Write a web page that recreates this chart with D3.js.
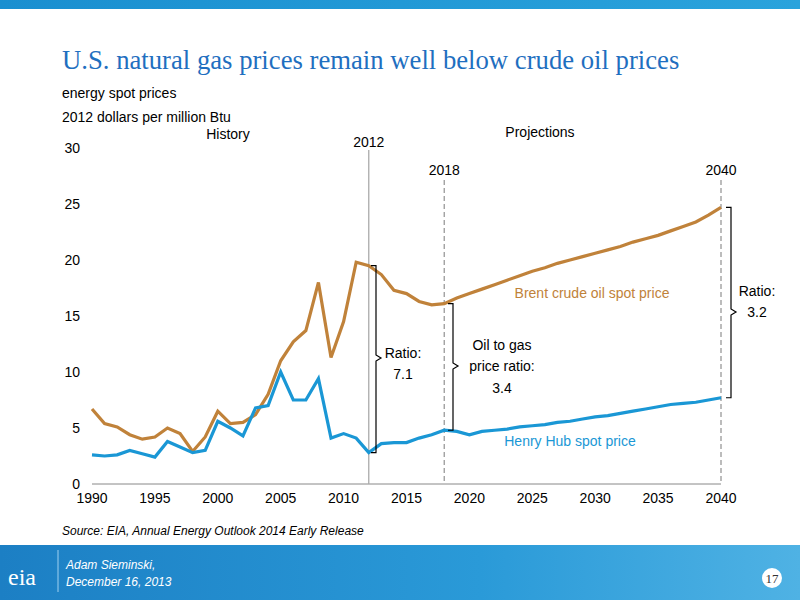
<!DOCTYPE html>
<html><head><meta charset="utf-8">
<script src="https://cdn.jsdelivr.net/npm/d3@7"></script>
<style>body{margin:0;background:#fff}</style></head>
<body><svg id="c" width="800" height="600"></svg>
<script>
const years = d3.range(1990, 2041);
const brent = [6.7,5.4,5.1,4.4,4.0,4.2,5.0,4.5,2.9,4.2,6.5,5.4,5.5,6.2,8.0,11.0,12.7,13.7,18.0,11.3,14.5,19.8,19.5,18.7,17.3,17.0,16.3,16.0,16.1,16.6,17.0,17.4,17.8,18.2,18.6,19.0,19.3,19.7,20.0,20.3,20.6,20.9,21.2,21.6,21.9,22.2,22.6,23.0,23.4,24.0,24.7];
const henry = [2.6,2.5,2.6,3.0,2.7,2.4,3.8,3.3,2.8,3.0,5.6,5.0,4.3,6.8,7.0,10.0,7.5,7.5,9.4,4.1,4.5,4.1,2.8,3.6,3.7,3.7,4.1,4.4,4.8,4.7,4.4,4.7,4.8,4.9,5.1,5.2,5.3,5.5,5.6,5.8,6.0,6.1,6.3,6.5,6.7,6.9,7.1,7.2,7.3,7.5,7.7];
const xTicks = [1990,1995,2000,2005,2010,2015,2020,2025,2030,2035,2040];
const yTicks = [0,5,10,15,20,25,30];

const svg = d3.select("#c");
const F = "Liberation Sans, Arial, sans-serif";
const x = d3.scaleLinear().domain([1990,2040]).range([92,721]);
const y = d3.scaleLinear().domain([0,30]).range([484,148]);

const g0 = svg.append("defs").append("linearGradient").attr("id","tg");
g0.append("stop").attr("offset","0").attr("stop-color","#1a8fd0");
g0.append("stop").attr("offset","1").attr("stop-color","#2aa3dc");
svg.append("rect").attr("x",0).attr("y",0).attr("width",800).attr("height",9).attr("fill","url(#tg)");

svg.append("text").attr("x",62).attr("y",69).attr("font-family","Liberation Serif, Times New Roman, serif")
  .attr("font-size",26.7).attr("fill","#1f6fc0").text("U.S. natural gas prices remain well below crude oil prices");
svg.append("text").attr("x",62).attr("y",98).attr("font-family",F).attr("font-size",14).text("energy spot prices");
svg.append("text").attr("x",62).attr("y",122).attr("font-family",F).attr("font-size",14).text("2012 dollars per million Btu");

svg.append("line").attr("x1",x(1990)).attr("x2",x(2040)).attr("y1",y(0)).attr("y2",y(0)).attr("stroke","#888");
svg.selectAll(".yt").data(yTicks).join("text").attr("x",80).attr("y",d=>y(d)+5).attr("text-anchor","end")
  .attr("font-family",F).attr("font-size",14).text(d=>d);
svg.selectAll(".xt").data(xTicks).join("text").attr("x",d=>x(d)).attr("y",503).attr("text-anchor","middle")
  .attr("font-family",F).attr("font-size",14).text(d=>d);

svg.append("line").attr("x1",x(2012)).attr("x2",x(2012)).attr("y1",150).attr("y2",y(0)).attr("stroke","#aaa").attr("stroke-width",1.3);
[2018,2040].forEach(v=>svg.append("line").attr("x1",x(v)).attr("x2",x(v)).attr("y1",180).attr("y2",y(0))
  .attr("stroke","#999").attr("stroke-width",1.3).attr("stroke-dasharray","5,3"));
svg.append("text").attr("x",x(2012)).attr("y",147).attr("text-anchor","middle").attr("font-family",F).attr("font-size",14).text("2012");
svg.append("text").attr("x",x(2018)).attr("y",175).attr("text-anchor","middle").attr("font-family",F).attr("font-size",14).text("2018");
svg.append("text").attr("x",x(2040)).attr("y",175).attr("text-anchor","middle").attr("font-family",F).attr("font-size",14).text("2040");
svg.append("text").attr("x",228).attr("y",139).attr("text-anchor","middle").attr("font-family",F).attr("font-size",14).text("History");
svg.append("text").attr("x",540).attr("y",137).attr("text-anchor","middle").attr("font-family",F).attr("font-size",14).text("Projections");

const line = d3.line().x((d,i)=>x(years[i])).y(d=>y(d));
svg.append("path").datum(brent).attr("d",line).attr("fill","none").attr("stroke","#c0823a").attr("stroke-width",3.2);
svg.append("path").datum(henry).attr("d",line).attr("fill","none").attr("stroke","#1a97d5").attr("stroke-width",3.2);

svg.append("text").attr("x",592).attr("y",298).attr("text-anchor","middle").attr("font-family",F).attr("font-size",14).attr("fill","#c0823a").text("Brent crude oil spot price");
svg.append("text").attr("x",570).attr("y",446).attr("text-anchor","middle").attr("font-family",F).attr("font-size",14).attr("fill","#1a97d5").text("Henry Hub spot price");

function brace(xx, y1, y2, tipY){
  const m=tipY;
  svg.append("path").attr("d",`M${xx-5},${y1} L${xx},${y1} L${xx},${m-3} L${xx+5},${m} L${xx},${m+3} L${xx},${y2} L${xx-5},${y2}`)
    .attr("fill","none").attr("stroke","#000").attr("stroke-width",1.2);
}
brace(376, y(19.5), y(2.8), 358);
brace(453, y(16.1), y(4.8), 366);
brace(731, y(24.7), y(7.7), 312);
function t(s,xx,yy){svg.append("text").attr("x",xx).attr("y",yy).attr("text-anchor","middle").attr("font-family",F).attr("font-size",14).text(s);}
t("Ratio:",403,358); t("7.1",403,379);
t("Oil to gas",502,350); t("price ratio:",502,371); t("3.4",502,393);
t("Ratio:",757,296); t("3.2",757,317);

svg.append("text").attr("x",62).attr("y",535).attr("font-family",F).attr("font-size",12).attr("font-style","italic").text("Source:  EIA, Annual Energy Outlook 2014 Early Release");

const fg = svg.select("defs").append("linearGradient").attr("id","fg");
fg.append("stop").attr("offset","0").attr("stop-color","#1c7fc4");
fg.append("stop").attr("offset","0.6").attr("stop-color","#2a9ad8");
fg.append("stop").attr("offset","1").attr("stop-color","#4fb2e4");
svg.append("rect").attr("x",0).attr("y",545).attr("width",800).attr("height",55).attr("fill","url(#fg)");
svg.append("text").attr("x",8).attr("y",585).attr("font-family","Liberation Serif, serif").attr("font-size",24).attr("fill","#fff").text("eia");
svg.append("line").attr("x1",58).attr("x2",58).attr("y1",550).attr("y2",592).attr("stroke","#9fd0f0");
svg.append("text").attr("x",66).attr("y",569).attr("font-family",F).attr("font-size",12).attr("font-style","italic").attr("fill","#fff").text("Adam Sieminski,");
svg.append("text").attr("x",66).attr("y",586).attr("font-family",F).attr("font-size",12).attr("font-style","italic").attr("fill","#fff").text("December 16, 2013");
svg.append("circle").attr("cx",772).attr("cy",578).attr("r",10).attr("fill","#fff");
svg.append("text").attr("x",772).attr("y",583).attr("text-anchor","middle").attr("font-family","Liberation Serif, serif").attr("font-size",13).attr("fill","#333").text("17");
</script></body></html>
